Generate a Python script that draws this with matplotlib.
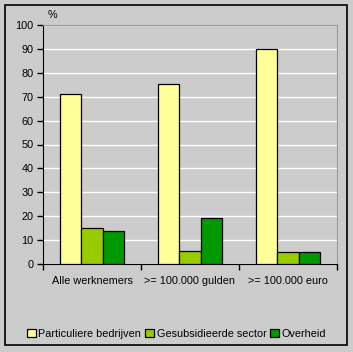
import numpy as np
import matplotlib.pyplot as plt
from matplotlib.patches import Rectangle

categories = ['Alle werknemers', '>= 100.000 gulden', '>= 100.000 euro']
particulier = [71, 75.2, 89.8]
gesubsidieerd = [15, 5.3, 4.9]
overheid = [13.7, 19.1, 4.9]
series_names = ['Particuliere bedrijven', 'Gesubsidieerde sector', 'Overheid']
colors = ['#FFFF99', '#99CC00', '#009900']

plt.rcParams['font.family'] = ['Liberation Sans', 'DejaVu Sans']
plt.rcParams['font.size'] = 7.8

W, H = 353, 352
fig = plt.figure(figsize=(W / 100, H / 100), dpi=100)
fig.patch.set_facecolor('#CCCCCC')

# outer black frame
fig.patches.append(Rectangle((5 / W, 1 - 345 / H), 342 / W, 340 / H, transform=fig.transFigure,
                             fill=False, edgecolor='black', linewidth=1.2))

ax = fig.add_axes([43 / W, 1 - 264 / H, (337 - 43) / W, (264 - 25) / H])
ax.set_facecolor('#CCCCCC')

x = np.arange(len(categories))
bw = 0.215
for i, (vals, name) in enumerate(zip([particulier, gesubsidieerd, overheid], series_names)):
    ax.bar(x + (i - 1) * bw, vals, bw, color=colors[i], edgecolor='black', linewidth=0.9,
           label=name, zorder=3)

ax.set_xlim(-0.5, 2.5)
ax.set_ylim(0, 100)
ax.set_yticks(range(0, 101, 10))
ax.yaxis.grid(True, color='white', linewidth=1.0, zorder=0)
ax.set_axisbelow(True)

ax.set_xticks([-0.5, 0.5, 1.5, 2.5])
ax.set_xticklabels([])
ax.set_xticks(x, minor=True)
ax.set_xticklabels(categories, minor=True)
ax.tick_params(axis='x', which='minor', length=0, pad=9)
ax.tick_params(axis='x', which='major', length=4, direction='out', width=1)
ax.tick_params(axis='y', length=4, direction='out', width=1, pad=3)

ax.spines['left'].set_color('black')
ax.spines['bottom'].set_color('black')
ax.spines['top'].set_color('#999999')
ax.spines['right'].set_color('#999999')

fig.text(48 / W, 1 - 15 / H, '%', ha='left', va='center')

fig.legend(loc='center', bbox_to_anchor=(0.5, 1 - 334 / H), ncol=3, frameon=False,
           handlelength=0.8, handleheight=0.8, handletextpad=0.25, columnspacing=0.35,
           borderaxespad=0)

fig.savefig('out.png', dpi=100, facecolor=fig.get_facecolor())
